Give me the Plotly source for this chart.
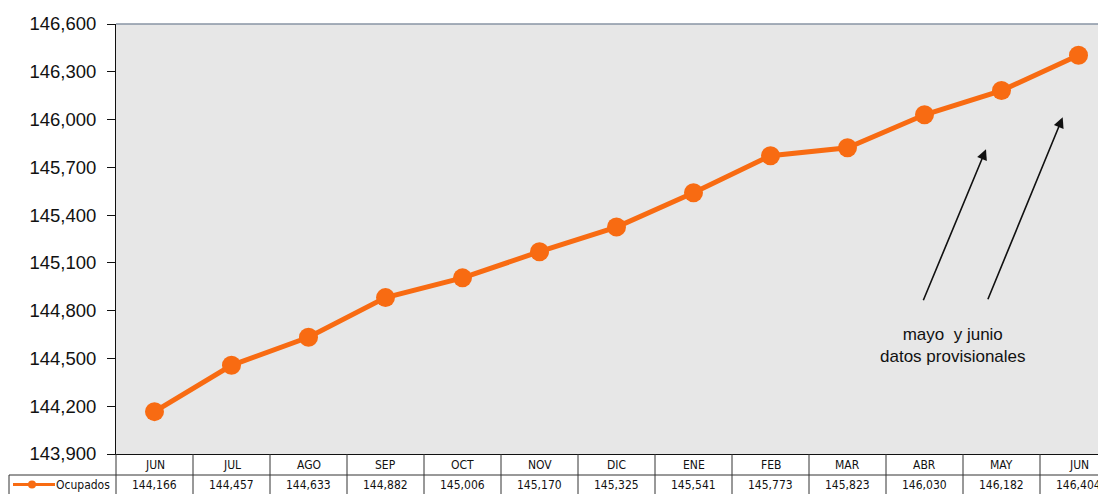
import plotly.graph_objects as go

months = ["JUN", "JUL", "AGO", "SEP", "OCT", "NOV", "DIC", "ENE", "FEB", "MAR", "ABR", "MAY", "JUN"]
ocupados = [144166, 144457, 144633, 144882, 145006, 145170, 145325, 145541, 145773, 145823, 146030, 146182, 146404]
series_name = "Ocupados"
y_min, y_max, y_step = 143900, 146600, 300
note_text = "mayo  y junio<br>datos provisionales"

ORANGE = "#F86B12"
FONT = "Liberation Sans, Arial, sans-serif"
NARROW = "Liberation Sans Narrow, Arial Narrow, DejaVu Sans Condensed, sans-serif"

# page body has an 8px margin; figure is sized so the plot lands where the reference has it
OFF = 8
W, H = 1106 - OFF, 494 - OFF
ML, MR, MT, MB = 116 - OFF, 0, 24 - OFF, 40
plot_h = H - MT - MB
plot_w = W - ML - MR

n = len(months)
x_idx = list(range(n))
cat_px = 77.0
x_hi = n - 0.5 - 11 / cat_px

fig = go.Figure()
fig.add_trace(go.Scatter(
    x=x_idx, y=ocupados, mode="lines+markers", name=series_name,
    line=dict(color=ORANGE, width=5),
    marker=dict(color=ORANGE, size=19),
    showlegend=False, cliponaxis=False,
))

# table geometry (paper coords)
hdr_bot = -21 / plot_h
row_bot = -42 / plot_h
hdr_mid = -11 / plot_h
row_mid = -30.5 / plot_h
LINE = dict(color="#333333", width=1)

def px_x(px):  # absolute screen x -> paper x
    return (px - 116) / plot_w

shapes = []
shapes.append(dict(type="line", xref="paper", yref="paper", x0=0, x1=1, y0=1, y1=1,
                   line=dict(color="#8894a4", width=1.5)))
shapes.append(dict(type="line", xref="paper", yref="paper", x0=0, x1=0, y0=0, y1=row_bot, line=LINE))
for i in range(1, n + 1):
    shapes.append(dict(type="line", xref="x", yref="paper", x0=i - 0.5, x1=i - 0.5,
                       y0=0, y1=row_bot, line=LINE))
shapes.append(dict(type="line", xref="paper", yref="paper", x0=px_x(9), x1=1,
                   y0=hdr_bot, y1=hdr_bot, line=LINE))
shapes.append(dict(type="line", xref="paper", yref="paper", x0=px_x(9), x1=px_x(9),
                   y0=hdr_bot, y1=row_bot, line=LINE))
# legend key in table
shapes.append(dict(type="line", xref="paper", yref="paper", x0=px_x(13), x1=px_x(55),
                   y0=row_mid, y1=row_mid, line=dict(color=ORANGE, width=3)))
shapes.append(dict(type="circle", xref="paper", yref="paper",
                   x0=px_x(28), x1=px_x(36),
                   y0=row_mid - 4 / plot_h, y1=row_mid + 4 / plot_h,
                   fillcolor=ORANGE, line=dict(color=ORANGE, width=0)))

tfont = dict(family=NARROW, size=12, color="#111111")
annotations = []
for i, (m, v) in enumerate(zip(months, ocupados)):
    annotations.append(dict(x=i, y=hdr_mid, xref="x", yref="paper", text=m, showarrow=False,
                            xanchor="center", yanchor="middle", font=tfont))
    annotations.append(dict(x=i, y=row_mid, xref="x", yref="paper", text=f"{v:,}", showarrow=False,
                            xanchor="center", yanchor="middle", font=tfont))
annotations.append(dict(x=px_x(112), y=row_mid, xref="paper", yref="paper", text=series_name,
                        showarrow=False, xanchor="right", yanchor="middle", font=tfont))

def xdat(px):
    return -0.5 + (px - 116) / cat_px
def ydat(py):
    return y_max - (py - 24) * (y_max - y_min) / plot_h

for tail, tip in [((922.7, 301.7), (986.0, 149.3)), ((987.3, 300.7), (1062.7, 117.3))]:
    annotations.append(dict(x=xdat(tip[0]), y=ydat(tip[1]), xref="x", yref="y",
                            ax=tail[0] - tip[0], ay=tail[1] - tip[1], axref="pixel", ayref="pixel",
                            showarrow=True, arrowhead=2, arrowsize=1.3, arrowwidth=1.6,
                            arrowcolor="#111111", text=""))
annotations.append(dict(x=xdat(953), y=ydat(345), xref="x", yref="y", text=note_text,
                        showarrow=False, xanchor="center", yanchor="middle", align="center",
                        font=dict(family=FONT, size=17, color="#111111")))

fig.update_layout(
    width=W, height=H,
    margin=dict(l=ML, r=MR, t=MT, b=MB, pad=0),
    paper_bgcolor="white",
    plot_bgcolor="#e7e7e7",
    shapes=shapes,
    annotations=annotations,
    xaxis=dict(range=[-0.5, x_hi], showgrid=False, zeroline=False,
               showticklabels=False, ticks="", showline=True, linecolor="#111111", linewidth=1),
    yaxis=dict(range=[y_min, y_max], tick0=y_min, dtick=y_step, tickformat=",d",
               showgrid=False, zeroline=False, showline=True, linecolor="#111111", linewidth=1,
               ticks="outside", ticklen=8, tickcolor="#111111", ticklabelstandoff=7,
               tickfont=dict(family=FONT, size=18.5, color="#111111")),
    showlegend=False,
)

fig.write_html("out.html", post_script="document.body.style.overflow='hidden';")
